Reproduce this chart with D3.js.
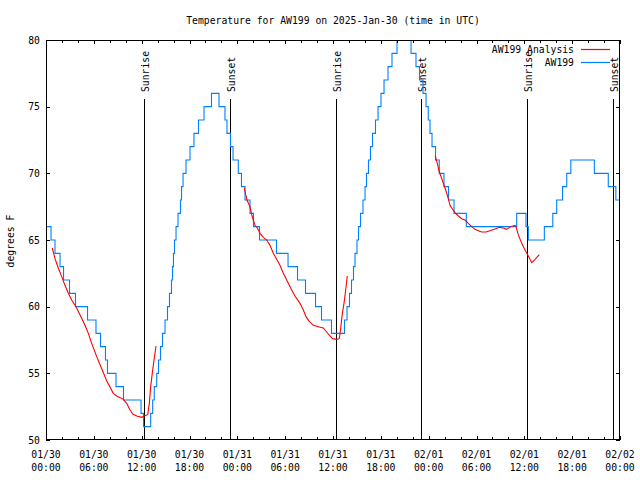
<!DOCTYPE html>
<html><head><meta charset="utf-8">
<script src="https://cdn.jsdelivr.net/npm/d3@7"></script>
<style>
body{margin:0;background:#fff;}
text{font-family:"DejaVu Sans Mono","Liberation Mono",monospace;font-size:9.75px;fill:#000;}
</style></head><body>
<svg id="c" width="640" height="480"></svg>
<script>
// ---- data (hours since 2025-01-30 00:00 UTC) ----
const title = "Temperature for AW199 on 2025-Jan-30 (time in UTC)";
const yLabel = "degrees F";
const xTickHours = [0,6,12,18,24,30,36,42,48,54,60,66,72];
const xTickDates = ["01/30","01/30","01/30","01/30","01/31","01/31","01/31","01/31","02/01","02/01","02/01","02/01","02/02"];
const xTickTimes = ["00:00","06:00","12:00","18:00","00:00","06:00","12:00","18:00","00:00","06:00","12:00","18:00","00:00"];
const yTicks = [50,55,60,65,70,75,80];
const sunHours = [12.33, 23.12, 36.42, 47.10, 60.35, 71.17];
const sunLabels = ["Sunrise","Sunset","Sunrise","Sunset","Sunrise","Sunset"];
const seriesNames = ["AW199 Analysis","AW199"];

// observed (step changes: hour, value)
const obsHours = [0.00,0.63,1.13,1.76,2.20,2.95,3.70,5.21,6.27,6.84,7.46,7.71,8.78,9.72,11.92,12.23,
 13.13,13.38,13.58,13.89,14.11,14.36,14.61,14.93,15.24,15.49,15.74,15.87,15.99,16.12,16.31,16.56,16.87,17.00,
 17.19,17.56,18.06,18.56,19.13,19.82,20.76,21.70,22.45,22.70,23.14,23.46,24.12,24.52,24.96,25.59,26.03,26.78,
 28.91,30.36,31.55,32.55,33.81,34.56,35.81,37.44,37.76,38.07,38.32,38.57,38.76,39.01,39.20,39.45,39.76,40.02,
 40.20,40.45,40.70,40.96,41.33,41.65,42.02,42.40,42.90,43.40,44.03,44.28,45.53,45.79,46.41,46.85,47.29,47.67,
 47.95,48.17,48.42,48.86,49.33,49.92,50.49,51.18,52.72,59.04,60.21,60.50,62.51,63.57,64.06,64.79,65.32,65.83,
 68.78,70.53,71.48,72.00];
const obsTemps = [66,65,64,63,62,61,60,59,58,57,56,55,54,53,52,51,
 52,53,54,55,56,57,58,59,60,61,62,63,64,65,66,67,68,69,
 70,71,72,73,74,75,76,75,74,73,72,71,70,69,68,67,66,65,
 64,63,62,61,60,59,58,59,60,61,62,63,64,65,66,67,68,69,
 70,71,72,73,74,75,76,77,78,79,80,81,80,79,78,77,76,75,
 74,73,72,71,70,69,68,67,66,67,66,65,66,67,68,69,70,71,
 70,69,68,68];

// analysis (three separate runs)
const an1Hours = [0.79,1.13,1.54,1.97,2.38,2.80,3.22,3.76,4.26,4.89,5.31,5.73,6.36,6.99,7.61,8.44,8.87,9.70,10.12,10.54,10.88,11.38,12.00,12.29,12.76,12.96,13.13,13.33,13.55,13.80];
const an1Temps = [64.4,63.6,62.9,62.25,61.6,61.0,60.5,60.0,59.4,58.6,58.0,57.25,56.25,55.35,54.45,53.5,53.3,53.05,52.75,52.25,51.95,51.8,51.7,51.8,51.9,52.75,54.0,55.0,56.0,57.05];
const an2Hours = [24.87,25.21,25.59,25.80,26.00,26.22,26.51,26.85,27.26,27.68,28.10,28.51,28.94,29.35,29.77,30.19,30.61,31.23,31.86,32.28,32.61,33.03,33.53,34.16,34.78,35.21,35.62,35.96,36.47,36.79,36.97,37.17,37.38,37.59,37.79];
const an2Temps = [68.9,68.0,67.5,66.9,66.5,66.1,65.9,65.5,65.2,65.0,64.6,64.0,63.55,63.1,62.5,62.0,61.5,60.8,60.25,59.75,59.25,58.9,58.6,58.5,58.4,58.1,57.8,57.6,57.55,57.6,58.4,59.5,60.25,61.25,62.3];
const an3Hours = [48.83,49.08,49.34,49.64,49.84,50.14,50.39,50.68,50.89,51.30,51.72,52.15,52.56,52.97,53.40,53.81,54.23,54.65,55.19,55.69,56.23,56.86,57.36,57.79,58.29,58.83,58.96,59.24,59.67,60.09,60.50,60.93,61.34,61.88];
const an3Temps = [71.3,70.75,70.1,69.6,69.25,68.75,68.25,67.6,67.4,67.05,66.8,66.6,66.5,66.25,66.0,65.8,65.7,65.6,65.6,65.7,65.8,65.95,65.9,65.8,66.0,66.1,66.0,65.4,64.75,64.25,63.8,63.3,63.55,63.9];

// ---- drawing ----
const L=46, R=620, T=40, B=440;
const svg = d3.select("#c");
const x = d3.scaleLinear().domain([0,72]).range([L,R]);
const y = d3.scaleLinear().domain([50,80]).range([B,T]);
const colRed = "#ff0000", colBlue = "#0080ff";

svg.append("defs").append("clipPath").attr("id","clip")
  .append("rect").attr("x",L).attr("y",T).attr("width",R-L).attr("height",B-T);

// sun lines
const sun = svg.append("g");
sunHours.forEach((h,i)=>{
  const sx = Math.round(x(h))+0.5;
  sun.append("line").attr("x1",sx).attr("x2",sx).attr("y1",99).attr("y2",B)
    .attr("stroke","#000").attr("stroke-width",1).attr("shape-rendering","crispEdges");
  sun.append("text").attr("transform",`translate(${sx+4.5},92) rotate(-90)`)
    .attr("text-anchor","start").text(sunLabels[i]);
});

// series
const plot = svg.append("g").attr("clip-path","url(#clip)");
const obs = obsHours.map((h,i)=>[h,obsTemps[i]]);
plot.append("path").datum(obs)
  .attr("d", d3.line().x(d=>x(d[0])).y(d=>y(d[1])).curve(d3.curveStepAfter))
  .attr("fill","none").attr("stroke",colBlue).attr("stroke-width",1.1);

[[an1Hours,an1Temps],[an2Hours,an2Temps],[an3Hours,an3Temps]].forEach(([hs,ts])=>{
  plot.append("path").datum(hs.map((h,i)=>[h,ts[i]]))
    .attr("d", d3.line().x(d=>x(d[0])).y(d=>y(d[1])))
    .attr("fill","none").attr("stroke",colRed).attr("stroke-width",1.1);
});

// axes ticks
const ax = svg.append("g").attr("shape-rendering","crispEdges");
const minorHours = d3.range(0,73,2).filter(h=>h%6!==0);
const tk = (x1,y1,x2,y2)=>ax.append("line").attr("x1",x1).attr("y1",y1).attr("x2",x2).attr("y2",y2).attr("stroke","#000");
xTickHours.forEach(h=>{const px=Math.round(x(h))+0.5; tk(px,B,px,B-4); tk(px,T,px,T+4);});
minorHours.forEach(h=>{const px=Math.round(x(h))+0.5; tk(px,B,px,B-3); tk(px,T,px,T+3);});
yTicks.forEach(v=>{const py=Math.round(y(v))+0.5; tk(L,py,L+4,py); tk(R,py,R-4,py);});

// frame
svg.append("rect").attr("x",L+0.5).attr("y",T+0.5).attr("width",R-L-1).attr("height",B-T-1)
  .attr("fill","none").attr("stroke","#000").attr("shape-rendering","crispEdges");

// tick labels
xTickHours.forEach((h,i)=>{
  const t = svg.append("text").attr("x",x(h)).attr("text-anchor","middle");
  t.append("tspan").attr("x",x(h)).attr("y",457.5).text(xTickDates[i]);
  t.append("tspan").attr("x",x(h)).attr("y",470.5).text(xTickTimes[i]);
});
yTicks.forEach(v=>{
  svg.append("text").attr("x",40).attr("y",y(v)+3.5).attr("text-anchor","end").text(v);
});

// title & axis label
svg.append("text").attr("x",333).attr("y",23.5).attr("text-anchor","middle").text(title);
svg.append("text").attr("transform","translate(13.5,241) rotate(-90)").attr("text-anchor","middle").text(yLabel);

// legend
const lg = svg.append("g");
[[colRed,49.5],[colBlue,62.5]].forEach(([c,ly],i)=>{
  lg.append("text").attr("x",574).attr("y",ly+3.5).attr("text-anchor","end").text(seriesNames[i]);
  lg.append("line").attr("x1",581).attr("x2",610).attr("y1",ly).attr("y2",ly)
    .attr("stroke",c).attr("stroke-width",1.2);
});
</script></body></html>
